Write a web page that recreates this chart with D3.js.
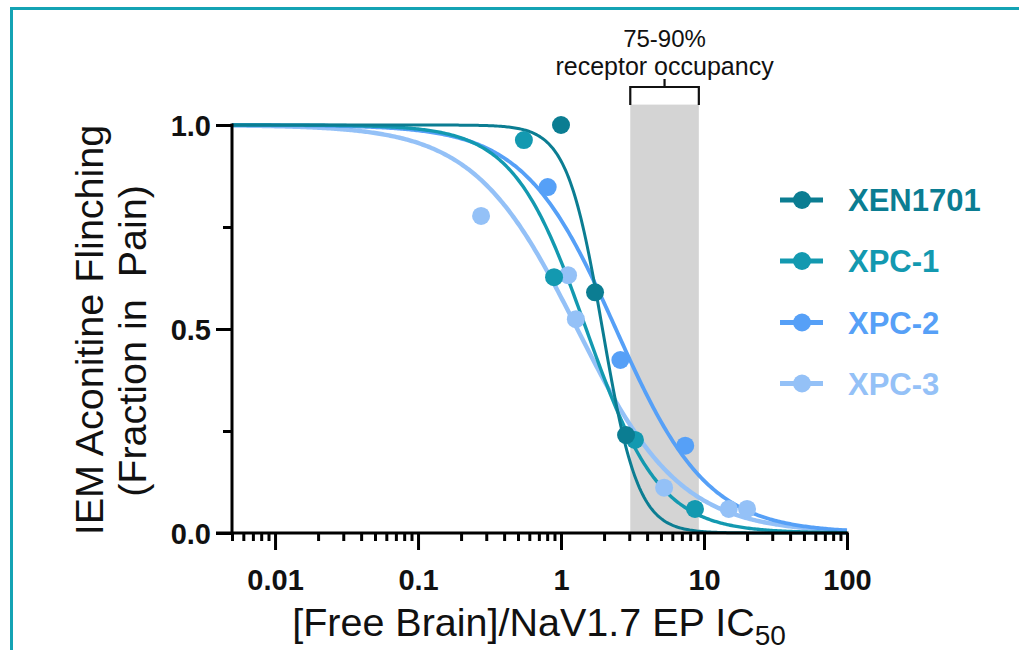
<!DOCTYPE html>
<html>
<head>
<meta charset="utf-8">
<script src="https://cdn.jsdelivr.net/npm/d3@7"></script>
<style>
  html, body { margin: 0; padding: 0; background: #fff; }
  svg { display: block; font-family: "Liberation Sans", Arial, Helvetica, sans-serif; }
</style>
</head>
<body>
<svg id="chart" width="1019" height="650"></svg>
<script>
// ---------- data ----------
const seriesNames = ["XEN1701", "XPC-1", "XPC-2", "XPC-3"];
const xen1701X = [1.0, 1.73, 2.85];
const xen1701Y = [1.0, 0.59, 0.24];
const xpc1X = [0.55, 0.894, 3.29, 8.65];
const xpc1Y = [0.963, 0.627, 0.228, 0.059];
const xpc2X = [0.807, 2.6, 7.39];
const xpc2Y = [0.848, 0.424, 0.214];
const xpc3X = [0.276, 1.12, 1.27, 5.26, 14.9, 20];
const xpc3Y = [0.777, 0.632, 0.524, 0.111, 0.059, 0.059];
// Hill-fit parameters of the drawn curves (top 1, bottom 0)
const fitIC50 = [1.95, 1.5, 2.42, 1.3];
const fitHill = [3.5, 1.7, 1.35, 1.2];
const seriesColors = ["#0b7d92", "#1399b0", "#56a0f7", "#94c1f7"];
const xTickValues = [0.01, 0.1, 1, 10, 100];
const xTickLabels = ["0.01", "0.1", "1", "10", "100"];
const yTickValues = [0, 0.5, 1];
const yTickLabels = ["0.0", "0.5", "1.0"];
const yMinorTicks = [0.25, 0.75];
const xDomain = [0.005, 100];
const occupancyBand = [3.05, 9.2];
const occupancyLabel = ["75-90%", "receptor occupancy"];

// ---------- layout ----------
const svg = d3.select("#chart");
const x = d3.scaleLog().domain(xDomain).range([232, 847]);
const y = d3.scaleLinear().domain([0, 1]).range([533, 125]);

// frame
svg.append("path")
  .attr("d", "M11.5,650 V8.5 H1019")
  .attr("fill", "none").attr("stroke", "#14a3b4").attr("stroke-width", 3);

// occupancy band
svg.append("rect")
  .attr("x", x(occupancyBand[0])).attr("width", x(occupancyBand[1]) - x(occupancyBand[0]))
  .attr("y", y(1.05)).attr("height", y(0) - y(1.05))
  .attr("fill", "#d4d4d4");

// bracket
const bx0 = x(occupancyBand[0]), bx1 = x(occupancyBand[1]), bxm = (bx0 + bx1) / 2;
svg.append("path")
  .attr("d", `M${bx0},105 V87 H${bx1} V105 M${bxm},87 V79`)
  .attr("fill", "none").attr("stroke", "#111").attr("stroke-width", 2.2);
svg.append("text").attr("text-anchor", "middle").attr("font-size", 24).attr("fill", "#111")
  .attr("x", bxm).attr("y", 47).text(occupancyLabel[0]);
svg.append("text").attr("text-anchor", "middle").attr("font-size", 25).attr("fill", "#111")
  .attr("x", bxm).attr("y", 75).text(occupancyLabel[1]);

// curves
const allX = [xen1701X, xpc1X, xpc2X, xpc3X];
const allY = [xen1701Y, xpc1Y, xpc2Y, xpc3Y];
const widths = [3, 3.4, 3.8, 4.4];
const logGrid = d3.range(0, 401).map(i => Math.pow(10, Math.log10(xDomain[0]) + i * (Math.log10(xDomain[1]) - Math.log10(xDomain[0])) / 400));
const line = d3.line().x(d => x(d[0])).y(d => y(d[1])).curve(d3.curveLinear);
const drawOrder = [3, 2, 1, 0];
drawOrder.forEach(i => {
  const pts = logGrid.map(v => [v, 1 / (1 + Math.pow(v / fitIC50[i], fitHill[i]))]);
  svg.append("path").datum(pts).attr("d", line)
    .attr("fill", "none").attr("stroke", seriesColors[i]).attr("stroke-width", widths[i]);
});

// points
drawOrder.forEach(i => {
  svg.append("g").selectAll("circle")
    .data(allX[i].map((v, k) => [v, allY[i][k]]))
    .join("circle")
    .attr("cx", d => x(d[0])).attr("cy", d => y(d[1])).attr("r", 9)
    .attr("fill", seriesColors[i]);
});

// ---------- axes ----------
const axisStroke = 3;
const minorX = [];
for (let e = -3; e <= 1; e++) for (let m = 2; m <= 9; m++) {
  const v = m * Math.pow(10, e);
  if (v >= xDomain[0] && v <= xDomain[1]) minorX.push(v);
}
const gxMinor = svg.append("g").attr("transform", `translate(0,${y(0)})`)
  .call(d3.axisBottom(x).tickValues(minorX).tickSizeInner(8).tickSizeOuter(0).tickFormat(""));
gxMinor.select(".domain").remove();
const gx = svg.append("g").attr("transform", `translate(0,${y(0)})`)
  .call(d3.axisBottom(x).tickValues(xTickValues).tickSizeInner(17).tickSizeOuter(0)
    .tickFormat((d, i) => xTickLabels[i]).tickPadding(19));
gx.select(".domain").remove();
svg.append("line").attr("x1", x.range()[0] - 16).attr("x2", x.range()[1] + 1.5)
  .attr("y1", y(0)).attr("y2", y(0)).attr("stroke", "#000").attr("stroke-width", axisStroke);

const gyMinor = svg.append("g").attr("transform", `translate(${x.range()[0]},0)`)
  .call(d3.axisLeft(y).tickValues(yMinorTicks).tickSizeInner(9).tickSizeOuter(0).tickFormat(""));
gyMinor.select(".domain").remove();
const gy = svg.append("g").attr("transform", `translate(${x.range()[0]},0)`)
  .call(d3.axisLeft(y).tickValues(yTickValues).tickSizeInner(16).tickSizeOuter(0)
    .tickFormat((d, i) => yTickLabels[i]).tickPadding(5));
gy.select(".domain").remove();
svg.append("line").attr("x1", x.range()[0]).attr("x2", x.range()[0])
  .attr("y1", y(1) - 1.5).attr("y2", y(0)).attr("stroke", "#000").attr("stroke-width", axisStroke);

svg.selectAll(".tick line").attr("stroke", "#000").attr("stroke-width", axisStroke);
gx.selectAll("text").attr("font-size", 29).attr("font-weight", "bold").attr("fill", "#111")
  .attr("font-family", "Liberation Sans, Arial, sans-serif");
gy.selectAll("text").attr("font-size", 29).attr("font-weight", "bold").attr("fill", "#111")
  .attr("font-family", "Liberation Sans, Arial, sans-serif").attr("dy", "0.36em");

// axis titles
const xt = svg.append("text").attr("x", 539).attr("y", 636).attr("text-anchor", "middle")
  .attr("font-size", 39.5).attr("fill", "#111");
xt.append("tspan").text("[Free Brain]/NaV1.7 EP IC");
xt.append("tspan").attr("font-size", 28).attr("dy", 9).text("50");

const yt = svg.append("text").attr("transform", "translate(0,330) rotate(-90)")
  .attr("text-anchor", "middle").attr("font-size", 39.5).attr("fill", "#111")
  .style("white-space", "pre");
yt.append("tspan").attr("x", 0).attr("y", 103).text("IEM Aconitine Flinching");
yt.append("tspan").attr("x", -11).attr("y", 146).text("(Fraction in  Pain)");

// legend
const legendY = [200, 261, 322.5, 383.5];
seriesNames.forEach((name, i) => {
  const g = svg.append("g").attr("transform", `translate(0,${legendY[i]})`);
  g.append("line").attr("x1", 780).attr("x2", 823).attr("y1", 0).attr("y2", 0)
    .attr("stroke", seriesColors[i]).attr("stroke-width", 5);
  g.append("circle").attr("cx", 802).attr("cy", 0).attr("r", 9).attr("fill", seriesColors[i]);
  g.append("text").attr("x", 848).attr("y", 11).attr("font-size", 31).attr("font-weight", "bold")
    .attr("fill", seriesColors[i]).text(name);
});
</script>
</body>
</html>
